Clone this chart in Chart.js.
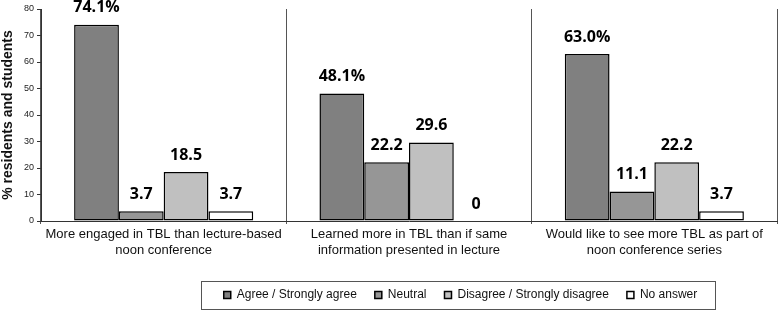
<!DOCTYPE html>
<html>
<head>
<meta charset="utf-8">
<script src="https://cdn.jsdelivr.net/npm/chart.js@4/dist/chart.umd.min.js"></script>
<style>
  html, body { margin: 0; padding: 0; background: #fff; }
  #wrap { width: 778px; height: 311px; position: relative; }
</style>
</head>
<body>
<div id="wrap"><canvas id="chart"></canvas></div>
<script>
// Données
const categories = [
    ['More engaged in TBL than lecture-based', 'noon conference'],
    ['Learned more in TBL than if same', 'information presented in lecture'],
    ['Would like to see more TBL as part of', 'noon conference series']
];
const seriesNames = ['Agree / Strongly agree', 'Neutral', 'Disagree / Strongly disagree', 'No answer'];
const agreeValues = [74.1, 48.1, 63.0];
const neutralValues = [3.7, 22.2, 11.1];
const disagreeValues = [18.5, 29.6, 22.2];
const noAnswerValues = [3.7, 0, 3.7];
const seriesColors = ['#808080', '#969696', '#c0c0c0', '#ffffff'];
const yTicks = [0, 10, 20, 30, 40, 50, 60, 70, 80];

const allValues = [agreeValues, neutralValues, disagreeValues, noAnswerValues];

// Étiquettes au-dessus des barres (la première série porte le %)
const barLabels = {
    id: 'barLabels',
    afterDatasetsDraw(chart) {
        const ctx = chart.ctx;
        ctx.save();
        ctx.font = 'bold 16px "Open Sans", sans-serif';
        ctx.fillStyle = '#000';
        ctx.textAlign = 'center';
        ctx.textBaseline = 'middle';
        chart.data.datasets.forEach((ds, di) => {
            const meta = chart.getDatasetMeta(di);
            meta.data.forEach((bar, i) => {
                const v = ds.data[i];
                let txt;
                if (di === 0) txt = v.toFixed(1) + '%';
                else txt = v === 0 ? '0' : v.toFixed(1);
                ctx.fillText(txt, bar.x, bar.y - 17);
            });
        });
        ctx.restore();
    }
};

// Décale la légende et dessine son cadre
const legendFrame = {
    id: 'legendFrame',
    afterLayout(chart) {
        if (chart.legend) {
            chart.legend.left += 72;
            chart.legend.right += 72;
        }
    },
    afterDraw(chart) {
        const boxes = chart.legend && chart.legend.legendHitBoxes;
        if (!boxes || !boxes.length) return;
        const first = boxes[0];
        const last = boxes[boxes.length - 1];
        const ctx = chart.ctx;
        ctx.save();
        ctx.strokeStyle = '#555';
        ctx.lineWidth = 1;
        const left = first.left - 23;
        const right = last.left + last.width + 17;
        const top = first.top + first.height / 2 - 14;
        ctx.strokeRect(Math.round(left) + 0.5, Math.round(top) + 0.5, Math.round(right - left), 28);
        ctx.restore();
    }
};

const datasets = seriesNames.map((name, i) => ({
    label: name,
    data: allValues[i],
    backgroundColor: seriesColors[i],
    borderColor: '#000',
    borderWidth: 1.5,
    borderSkipped: false,
    categoryPercentage: 0.73,
    barPercentage: 1.0
}));

new Chart(document.getElementById('chart'), {
    type: 'bar',
    data: { labels: categories, datasets: datasets },
    options: {
        responsive: true,
        maintainAspectRatio: false,
        animation: false,
        layout: { padding: { top: 9, right: 1, left: 0, bottom: 0 } },
        plugins: {
            legend: {
                position: 'bottom',
                labels: {
                    boxWidth: 7,
                    boxHeight: 7,
                    padding: 18,
                    color: '#111',
                    font: { family: '"Liberation Sans", Arial, sans-serif', size: 12 }
                }
            },
            tooltip: { enabled: false }
        },
        scales: {
            x: {
                grid: {
                    offset: true,
                    color: '#555',
                    lineWidth: 1,
                    tickLength: 3
                },
                border: { color: '#333', width: 1 },
                ticks: {
                    color: '#111',
                    padding: 3,
                    maxRotation: 0,
                    autoSkip: false,
                    font: { family: '"Liberation Sans", Arial, sans-serif', size: 13, lineHeight: 1.2 }
                },
                afterFit(scale) { scale.height = 50; }
            },
            y: {
                min: 0,
                max: 80,
                afterBuildTicks(scale) { scale.ticks = yTicks.map(v => ({ value: v })); },
                grid: { drawOnChartArea: false, tickLength: 4, color: '#333' },
                border: { color: '#333', width: 1 },
                ticks: {
                    color: '#222',
                    padding: 3,
                    font: { family: '"Liberation Sans", Arial, sans-serif', size: 9 }
                },
                title: {
                    display: true,
                    text: '% residents and students',
                    color: '#111',
                    padding: 0,
                    font: { family: '"Liberation Sans", Arial, sans-serif', size: 14, weight: 'bold' }
                },
                afterFit(scale) { scale.width = 41; }
            }
        }
    },
    plugins: [barLabels, legendFrame]
});
</script>
</body>
</html>
